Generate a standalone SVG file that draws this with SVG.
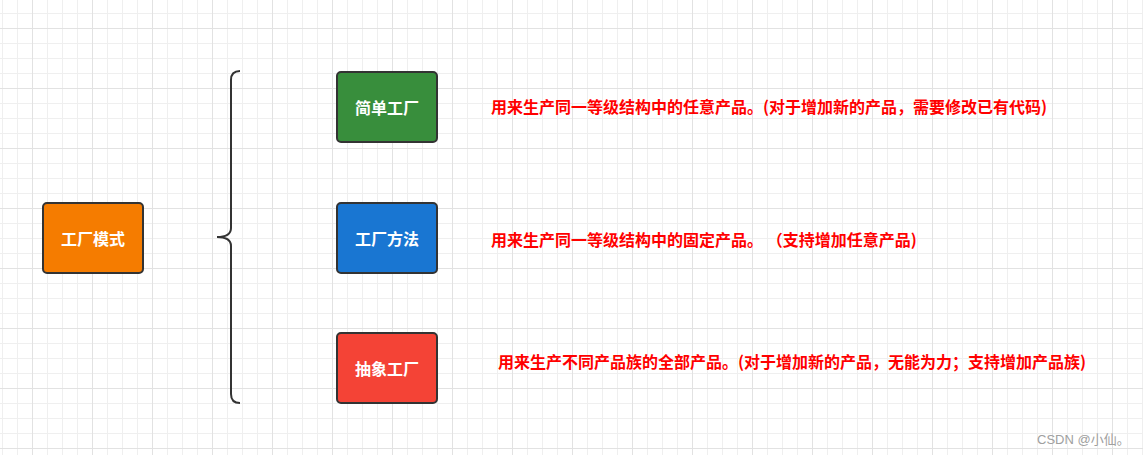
<svg xmlns="http://www.w3.org/2000/svg" width="1143" height="455" viewBox="0 0 1143 455">
<defs>
<pattern id="grid" x="32" y="28" width="60" height="60" patternUnits="userSpaceOnUse">
<path d="M15.5 0V60M30.5 0V60M45.5 0V60M0 15.5H60M0 30.5H60M0 45.5H60" stroke="#efefef" stroke-width="1" fill="none"/>
<path d="M0.5 0V60M0 0.5H60" stroke="#e2e2e2" stroke-width="1" fill="none"/>
</pattern>
<style>
.box{stroke:#333;stroke-width:2}
.lbl{font-family:"Noto Sans CJK SC","Noto Sans",sans-serif;font-size:16px;font-weight:bold;fill:#fff;text-anchor:middle;dominant-baseline:central}
.desc{font-family:"Noto Sans CJK SC","Noto Sans",sans-serif;font-size:16px;font-weight:bold;fill:#ff0000;dominant-baseline:central}
</style>
</defs>
<rect width="1143" height="455" fill="#fff"/>
<rect width="1143" height="455" fill="url(#grid)"/>
<g id="connectors">
<path d="M240 71Q231 71 231 80V228Q231 237 217 237Q231 237 231 246V394Q231 403 240 403" fill="none" stroke="#333" stroke-width="2"/>
</g>
<g id="node-factory">
<rect class="box" x="43" y="203" width="100" height="70" rx="4" fill="#f57c00"/>
<text class="lbl" x="93" y="238">工厂模式</text>
</g>
<g id="node-simple">
<rect class="box" x="337" y="72" width="100" height="70" rx="4" fill="#388e3c"/>
<text class="lbl" x="387" y="107">简单工厂</text>
</g>
<g id="node-method">
<rect class="box" x="337" y="203" width="100" height="70" rx="4" fill="#1976d2"/>
<text class="lbl" x="387" y="238">工厂方法</text>
</g>
<g id="node-abstract">
<rect class="box" x="337" y="333" width="100" height="70" rx="4" fill="#f44336"/>
<text class="lbl" x="387" y="368">抽象工厂</text>
</g>
<g id="desc-simple">
<text class="desc" x="491" y="106">用来生产同一等级结构中的任意产品。(对于增加新的产品，需要修改已有代码)</text>
</g>
<g id="desc-method">
<text class="desc" x="491" y="239" xml:space="preserve">用来生产同一等级结构中的固定产品。 （支持增加任意产品)</text>
</g>
<g id="desc-abstract">
<text class="desc" x="498" y="361">用来生产不同产品族的全部产品。(对于增加新的产品，无能为力；支持增加产品族)</text>
</g>
<text x="1037" y="444" font-family="'Liberation Sans','Noto Sans CJK SC',sans-serif" font-size="13" fill="#a0a0a0">CSDN @小仙。</text>
</svg>
